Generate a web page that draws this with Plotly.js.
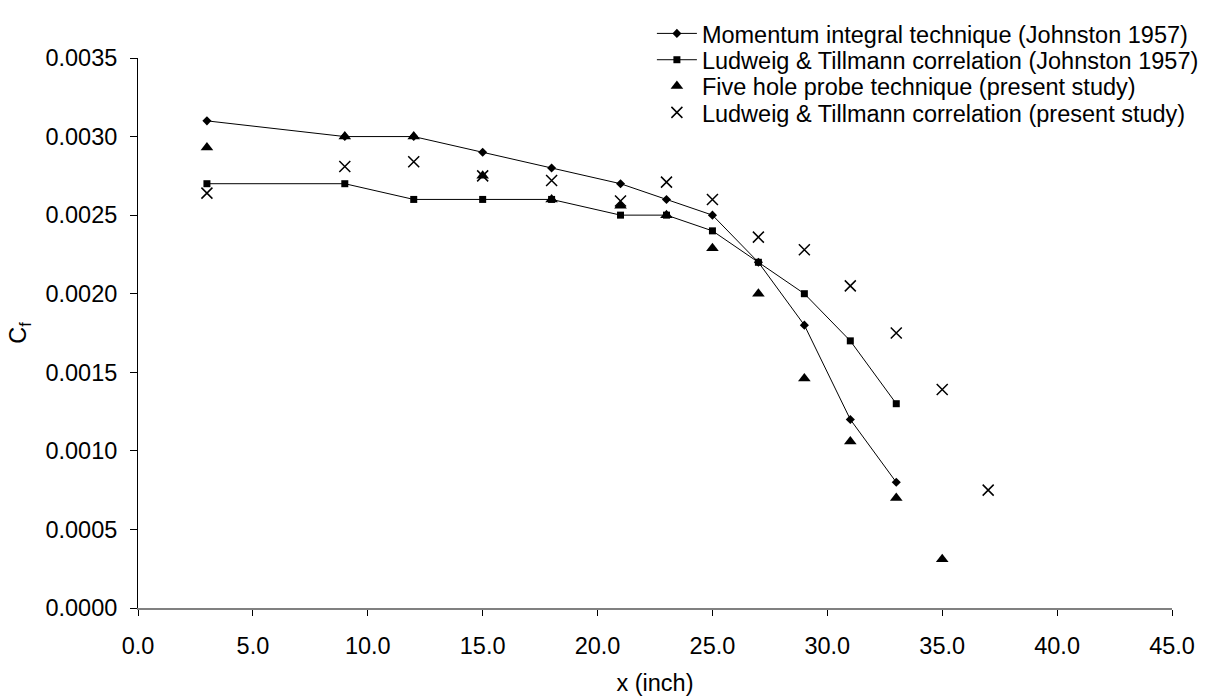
<!DOCTYPE html>
<html>
<head>
<meta charset="utf-8">
<script src="https://cdn.plot.ly/plotly-3.0.1.min.js"></script>
<style>html,body{margin:0;padding:0;background:#fff;}#chart{width:1216px;height:699px;}</style>
</head>
<body>
<div id="chart"></div>
<script>
// Data
const xJohnston = [3, 9, 12, 15, 18, 21, 23, 25, 27, 29, 31, 33];
const cfMomentum = [0.0031, 0.0030, 0.0030, 0.0029, 0.0028, 0.0027, 0.0026, 0.0025, 0.0022, 0.0018, 0.0012, 0.0008];
const cfLTJohnston = [0.0027, 0.0027, 0.0026, 0.0026, 0.0026, 0.0025, 0.0025, 0.0024, 0.0022, 0.0020, 0.0017, 0.0013];
const xFiveHole = [3, 9, 12, 15, 18, 21, 23, 25, 27, 29, 31, 33, 35];
const cfFiveHole = [0.00293, 0.0030, 0.0030, 0.00275, 0.0026, 0.00256, 0.0025, 0.00229, 0.0020, 0.00146, 0.00106, 0.0007, 0.00031];
const xLTPresent = [3, 9, 12, 15, 18, 21, 23, 25, 27, 29, 31, 33, 35, 37];
const cfLTPresent = [0.00264, 0.00281, 0.00284, 0.00275, 0.00272, 0.00259, 0.00271, 0.0026, 0.00236, 0.00228, 0.00205, 0.00175, 0.00139, 0.00075];
const seriesNames = [
  "Momentum integral technique (Johnston 1957)",
  "Ludweig & Tillmann correlation (Johnston 1957)",
  "Five hole probe technique (present study)",
  "Ludweig & Tillmann correlation (present study)"
];

const FONT = "Liberation Sans, Arial, sans-serif";
const FS = 23.5;

const traces = [
  {x: xJohnston, y: cfMomentum, name: seriesNames[0], mode: "lines+markers", legend: "legend",
   line: {color: "#000", width: 1}, marker: {symbol: "diamond", size: 7, color: "#000"}},
  {x: xJohnston, y: cfLTJohnston, name: seriesNames[1], mode: "lines+markers", legend: "legend2",
   line: {color: "#000", width: 1}, marker: {symbol: "square", size: 7, color: "#000"}},
  {x: xFiveHole, y: cfFiveHole, name: seriesNames[2], mode: "markers", legend: "legend3",
   marker: {symbol: "triangle-up", size: 11, color: "#000"}},
  {x: xLTPresent, y: cfLTPresent, name: seriesNames[3], mode: "markers", legend: "legend4",
   marker: {symbol: "x-thin", size: 11, color: "#000", line: {color: "#000", width: 1.5}}}
];

const plotTop = 44, plotBottom = 608, plotH = plotBottom - plotTop;
const rowY = [19, 46, 73, 100];
function legendAt(py) {
  return {x: 0.497, xanchor: "left", y: (plotBottom - py) / plotH, yanchor: "middle",
          bgcolor: "rgba(0,0,0,0)", borderwidth: 0, itemwidth: 40,
          font: {family: FONT, size: FS, color: "#000"}};
}

const layout = {
  width: 1216, height: 699,
  margin: {l: 138, r: 44, t: plotTop, b: 699 - plotBottom, pad: 0},
  paper_bgcolor: "#fff", plot_bgcolor: "#fff",
  font: {family: FONT, size: FS, color: "#000"},
  showlegend: true,
  legend: legendAt(rowY[0]),
  legend2: legendAt(rowY[1]),
  legend3: legendAt(rowY[2]),
  legend4: legendAt(rowY[3]),
  xaxis: {
    range: [0, 45], dtick: 5, tick0: 0, tickformat: ".1f",
    showgrid: false, zeroline: false,
    showline: true, linecolor: "#808080", linewidth: 2,
    ticks: "outside", ticklen: 6, tickwidth: 1, tickcolor: "#000",
    ticklabelstandoff: 10,
    tickfont: {family: FONT, size: FS, color: "#000"},
    title: {text: "x (inch)", font: {family: FONT, size: FS, color: "#000"}, standoff: 16},
    automargin: false
  },
  yaxis: {
    range: [0, 0.0035], dtick: 0.0005, tick0: 0, tickformat: ".4f",
    showgrid: false, zeroline: false,
    showline: true, linecolor: "#000", linewidth: 1,
    ticks: "outside", ticklen: 7, tickwidth: 1, tickcolor: "#000",
    ticklabelstandoff: 8,
    tickfont: {family: FONT, size: FS, color: "#000"},
    title: {text: "C<sub>f</sub>", font: {family: FONT, size: FS, color: "#000"}, standoff: 12},
    automargin: false
  }
};

Plotly.newPlot("chart", traces, layout, {staticPlot: true, displayModeBar: false});
</script>
</body>
</html>
